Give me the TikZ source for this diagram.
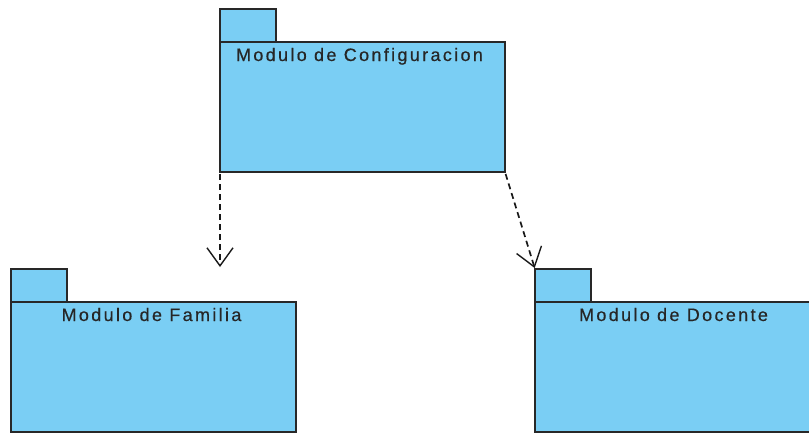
\documentclass[tikz,border=0pt]{standalone}
\usepackage{fontspec}
\setmainfont{Liberation Sans}[LetterSpace=13, FakeBold=0.4]
\usetikzlibrary{arrows.meta}
\definecolor{pkgfill}{RGB}{122,206,244}
\definecolor{pkgline}{RGB}{40,40,40}
\tikzset{
  pkgbody/.style={draw=pkgline, fill=pkgfill, line width=1.4pt, minimum width=285pt, minimum height=130pt, anchor=north west, inner sep=0pt, outer sep=0pt},
  pkgtab/.style={draw=pkgline, fill=pkgfill, line width=1.4pt, minimum width=56pt, minimum height=33pt, anchor=south west, inner sep=0pt, outer sep=0pt},
  pkgname/.style={font=\fontsize{18pt}{21pt}\selectfont, text=black!85, anchor=base, inner sep=0pt},
  depend/.style={draw=black!90, line width=1.7pt, dash pattern=on 6pt off 4pt, -{Straight Barb[length=18pt,width=26pt,line width=1.4pt]}}
}
\begin{document}
\begin{tikzpicture}[x=1pt,y=-1pt]
  \useasboundingbox (0,0) rectangle (809,432);
  \clip (0,0) rectangle (809,432);

  % Modulo de Configuracion
  \node[pkgbody] (conf) at (220,42) {};
  \node[pkgtab] (conftab) at (conf.north west) {};
  \node[pkgname] (conflbl) at ([xshift=-3pt,yshift=-19pt]conf.north) {Modulo de Configuracion};

  % Modulo de Familia
  \node[pkgbody] (fam) at (11,302) {};
  \node[pkgtab] (famtab) at (fam.north west) {};
  \node[pkgname] (famlbl) at ([xshift=-2pt,yshift=-19pt]fam.north) {Modulo de Familia};

  % Modulo de Docente
  \node[pkgbody] (doc) at (535,302) {};
  \node[pkgtab] (doctab) at (doc.north west) {};
  \node[pkgname] (doclbl) at ([xshift=-4pt,yshift=-19pt]doc.north) {Modulo de Docente};

  % dependencies
  \coordinate (famtip) at (220,267);
  \draw[depend, shorten <=2pt] (conf.south west) -- (famtip);
  \draw[depend, shorten <=2pt, shorten >=1pt] (conf.south east) -- (doctab.north west);
\end{tikzpicture}
\end{document}
